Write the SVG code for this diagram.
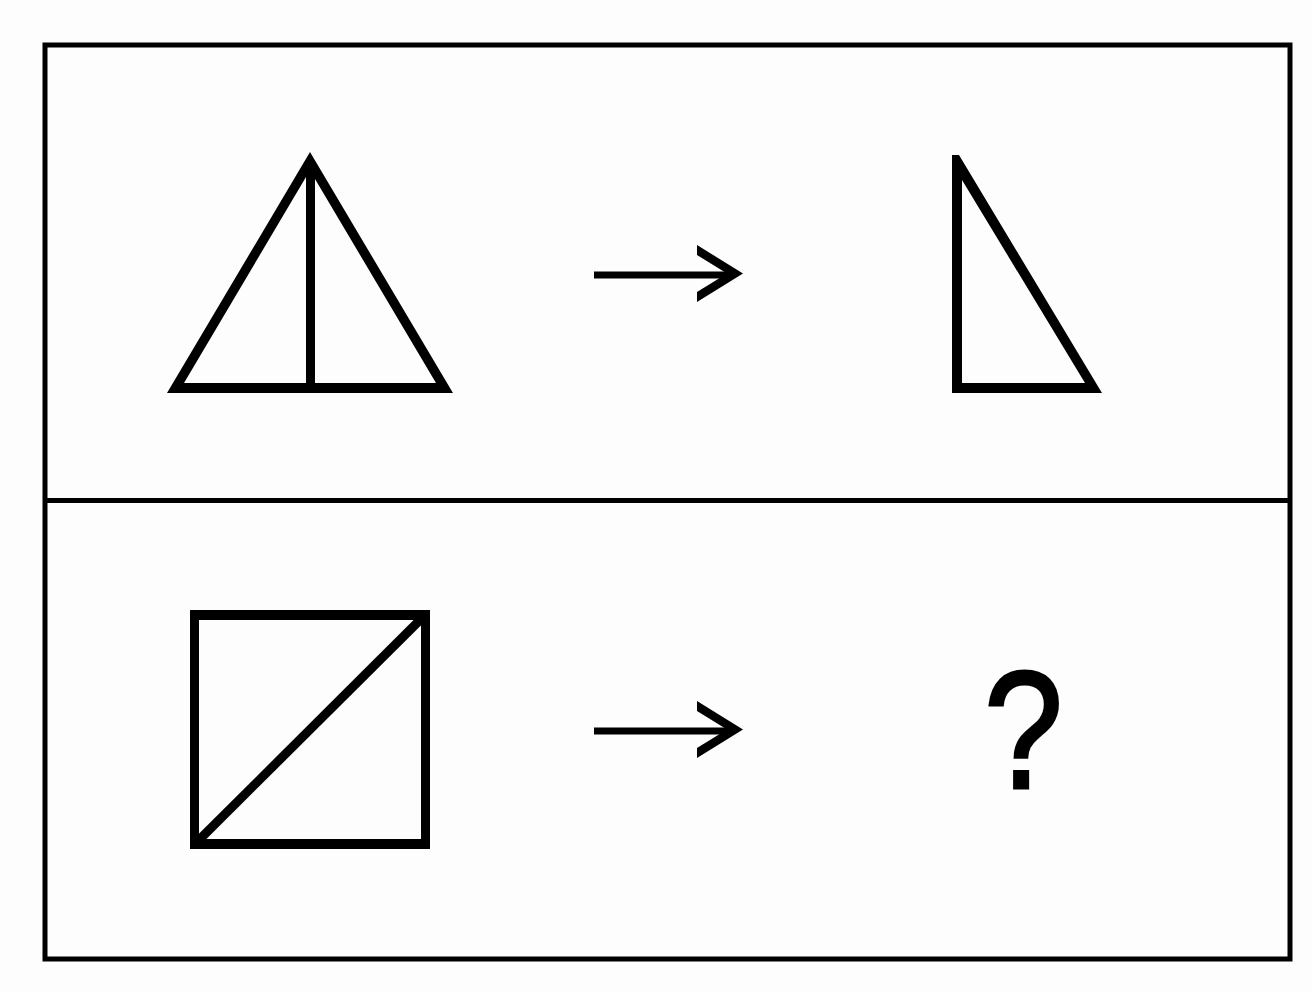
<svg xmlns="http://www.w3.org/2000/svg" width="1312" height="992" viewBox="0 0 1312 992">
<style>
.frame{fill:none;stroke:#000;stroke-width:5}
.solid{fill:#000;fill-rule:evenodd}
.inner{fill:none;stroke:#000;stroke-width:9}
.shaft{fill:none;stroke:#000;stroke-width:7}
.head{fill:#000}
.q{font-family:"Liberation Sans",Arial,sans-serif;font-size:167px;fill:#000;stroke:#000;stroke-width:3}
</style>
<defs>
<polygon id="arrowhead" class="head" points="697,245 743,273.5 697,302 697,292 727,273.5 697,255"/>
</defs>
<rect width="1312" height="992" fill="#fdfdfd"/>
<g id="frame">
<rect class="frame" x="45" y="45" width="1245" height="914"/>
<line class="frame" x1="45" y1="500.5" x2="1290" y2="500.5"/>
</g>
<g id="triangle-split">
<path class="solid" d="M310,152 L453,393 L167,393 Z M184,383 L306,177 L306,383 Z M315,179 L436,383 L315,383 Z"/>
</g>
<g id="right-triangle">
<path class="solid" d="M952,155 L959,155 L1102,393 L952,393 Z M962,180 L1085,383 L962,383 Z"/>
</g>
<g id="square-split">
<path class="solid" d="M190,610 L430,610 L430,849 L190,849 Z M199,620 L421,620 L421,839 L199,839 Z"/>
<line class="inner" x1="197" y1="842" x2="423" y2="617"/>
</g>
<g id="question" transform="translate(1023.5,788) scale(0.85,1)">
<text class="q" x="0" y="0" text-anchor="middle">?</text>
</g>
<g id="connectors">
<g id="arrow-top">
<line class="shaft" x1="594" y1="275" x2="728" y2="275"/>
<use href="#arrowhead"/>
</g>
<g id="arrow-bottom">
<line class="shaft" x1="594" y1="731" x2="728" y2="731"/>
<use href="#arrowhead" transform="translate(0,456)"/>
</g>
</g>
</svg>
